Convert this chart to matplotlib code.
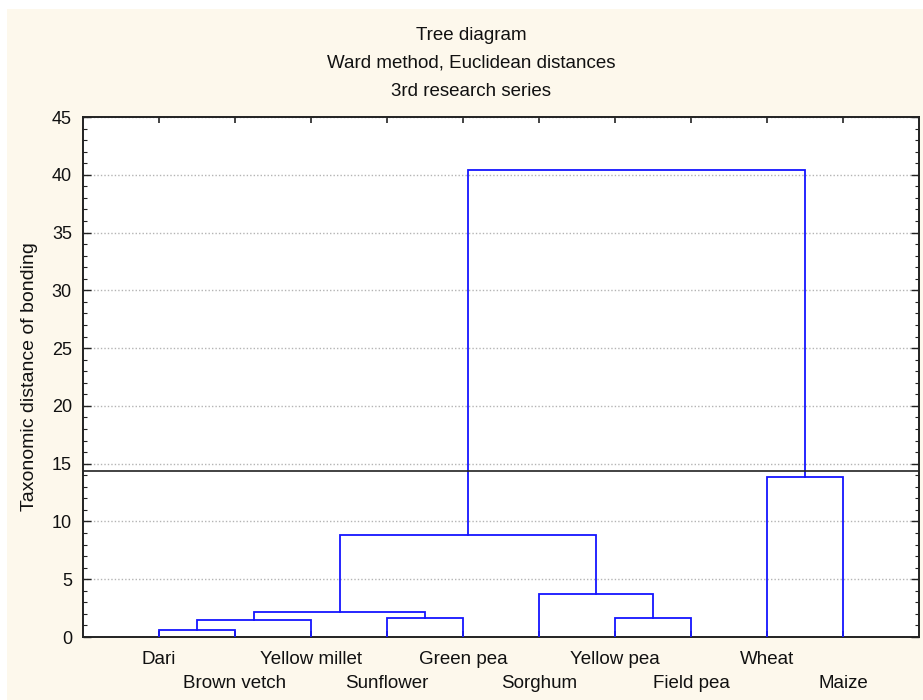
import matplotlib
matplotlib.use("Agg")
import matplotlib.pyplot as plt
import matplotlib.transforms as mtransforms
from matplotlib.patches import Rectangle
from matplotlib.ticker import MultipleLocator

plt.rcParams["font.family"] = ["Liberation Sans", "DejaVu Sans"]

# Leaves in dendrogram order
leaves = ["Dari", "Brown vetch", "Yellow millet", "Sunflower", "Green pea",
          "Sorghum", "Yellow pea", "Field pea", "Wheat", "Maize"]

# Linkage steps: (cluster a, cluster b, linkage distance); ids >= 10 are earlier merges
merge_a = [0, 10, 3, 11, 6, 5, 13, 8, 16]
merge_b = [1, 2, 4, 12, 7, 14, 15, 9, 17]
merge_h = [0.58, 1.51, 1.65, 2.15, 1.62, 3.70, 8.84, 13.87, 40.4]

cut_height = 14.4
y_ticks = [0, 5, 10, 15, 20, 25, 30, 35, 40, 45]

cream = "#FDF8EC"
line_blue = "#1515FF"

fig = plt.figure(figsize=(9.23, 7.0), dpi=100, facecolor="white")
fig.add_artist(Rectangle((7 / 923, 0), 1, 1 - 9 / 700, transform=fig.transFigure,
                         facecolor=cream, edgecolor="none", zorder=-10))

ax_h = 637 - 117
ax = fig.add_axes([83 / 923, 1 - 637 / 700, (919 - 83) / 923, ax_h / 700])
ax.set_facecolor("white")

n = len(leaves)
pos = {i: float(i + 1) for i in range(n)}
height = {i: 0.0 for i in range(n)}
for k, (a, b, h) in enumerate(zip(merge_a, merge_b, merge_h)):
    xa, xb = pos[a], pos[b]
    ax.plot([xa, xa, xb, xb], [height[a], h, h, height[b]],
            color=line_blue, lw=1.3, solid_joinstyle="miter", zorder=3)
    cid = n + k
    pos[cid] = (xa + xb) / 2
    height[cid] = h

ax.axhline(cut_height, color="#222222", lw=1.2, zorder=4)

ax.set_xlim(0, n + 1)
ax.set_ylim(0, 45)
ax.set_yticks(y_ticks)
ax.yaxis.set_minor_locator(MultipleLocator(1))
ax.set_xticks([pos[i] for i in range(n)])
ax.set_xticklabels([])

# Leaf names in two staggered rows below the axis
blend = mtransforms.blended_transform_factory(ax.transData, ax.transAxes)
for i, lab in enumerate(leaves):
    row_y = -22 / ax_h if i % 2 == 0 else -46 / ax_h
    ax.text(pos[i], row_y, lab, transform=blend, ha="center", va="center",
            fontsize=13.5, color="#111111", clip_on=False)

ax.tick_params(axis="x", direction="in", length=4, width=1.2,
               top=True, colors="#222222")
ax.tick_params(axis="y", which="major", direction="in", length=6, width=1.0,
               right=True, labelsize=13, pad=8, colors="#222222", labelcolor="#111111")
ax.tick_params(axis="y", which="minor", direction="in", length=3, width=0.8,
               right=True, colors="#222222")

ax.yaxis.grid(True, color="#b4b4b4", linestyle=(0, (1, 1.5)), lw=1.0)
ax.set_axisbelow(True)
for s in ax.spines.values():
    s.set_color("#222222")
    s.set_linewidth(1.4)

ax.set_ylabel("Taxonomic distance of bonding", fontsize=14, labelpad=10, color="#111111")

for y, txt in zip([35, 63, 91], ["Tree diagram", "Ward method, Euclidean distances",
                                 "3rd research series"]):
    fig.text(471 / 923, 1 - y / 700, txt, ha="center", va="center",
             fontsize=13.5, color="#111111")

fig.savefig("out.png", dpi=100, facecolor=fig.get_facecolor())
